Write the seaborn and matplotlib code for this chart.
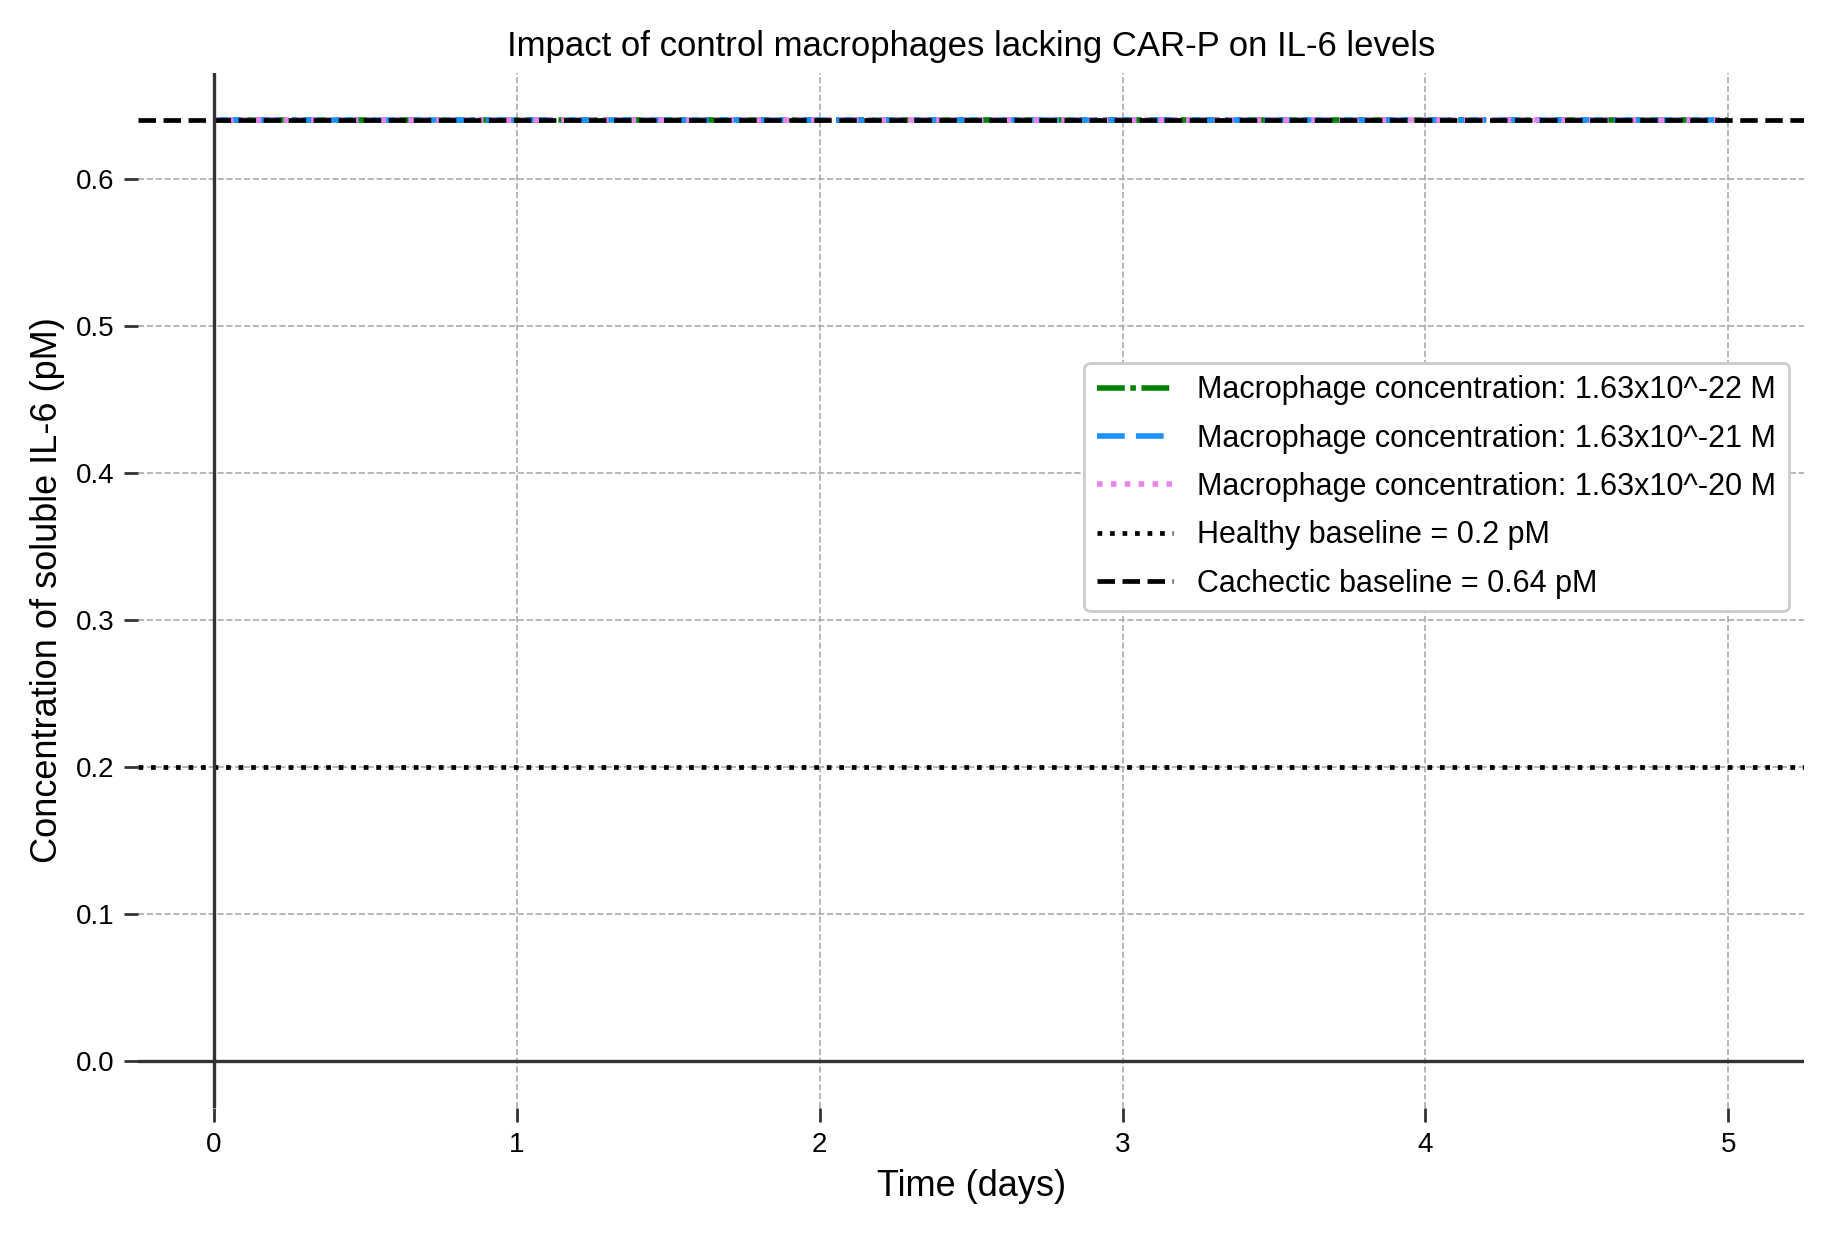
import numpy as np
import pandas as pd
import seaborn as sns
import matplotlib.pyplot as plt

sns.set_style("white")
plt.rcParams['font.family'] = ['Liberation Sans', 'DejaVu Sans']
plt.rcParams['text.color'] = 'black'
plt.rcParams['axes.labelcolor'] = 'black'
plt.rcParams['xtick.color'] = 'black'
plt.rcParams['ytick.color'] = 'black'

# vrijeme (dani) i razine IL-6 za tri koncentracije makrofaga
time_days = [0, 1, 2, 3, 4, 5]
il6_m22 = [0.64, 0.64, 0.64, 0.64, 0.64, 0.64]
il6_m21 = [0.64, 0.64, 0.64, 0.64, 0.64, 0.64]
il6_m20 = [0.64, 0.64, 0.64, 0.64, 0.64, 0.64]
labels = ["Macrophage concentration: 1.63x10^-22 M",
          "Macrophage concentration: 1.63x10^-21 M",
          "Macrophage concentration: 1.63x10^-20 M"]
healthy = 0.2
cachectic = 0.64

fig, ax = plt.subplots(figsize=(9.17, 6.17), dpi=200)

styles = [("green", (0, (5, 1, 1, 1))), ("dodgerblue", (0, (5, 2))), ("violet", (0, (1, 1.5)))]
for vals, lab, (c, ls) in zip([il6_m22, il6_m21, il6_m20], labels, styles):
    sns.lineplot(x=time_days, y=vals, ax=ax, color=c, linestyle=ls, linewidth=2, label=lab)

ax.axhline(healthy, color="black", linestyle=":", linewidth=1.7, label="Healthy baseline = 0.2 pM")
ax.axhline(cachectic, color="black", linestyle="--", linewidth=1.7, label="Cachectic baseline = 0.64 pM")
ax.axhline(0, color="#333333", linewidth=1.2)
ax.axvline(0, color="#333333", linewidth=1.2)

ax.set_xlim(-0.25, 5.25)
ax.set_ylim(-0.032, 0.672)
ax.set_yticks([0, 0.1, 0.2, 0.3, 0.4, 0.5, 0.6])
ax.set_xticks([0, 1, 2, 3, 4, 5])
ax.grid(True, linestyle="--", linewidth=0.6, color="#aaaaaa")
for s in ax.spines.values():
    s.set_visible(False)
ax.tick_params(axis="both", which="both", length=5, width=1, color="#333333", labelsize=10, bottom=True, left=True)

ax.set_title("Impact of control macrophages lacking CAR-P on IL-6 levels", fontsize=12.5)
ax.set_xlabel("Time (days)", fontsize=13)
ax.set_ylabel("Concentration of soluble IL-6 (pM)", fontsize=13)
ax.legend(loc="center right", bbox_to_anchor=(1.0, 0.6), fontsize=11, framealpha=1,
          edgecolor="#cccccc", handlelength=2.5, labelspacing=0.6)

fig.tight_layout()
fig.savefig("out.png", dpi=200)
